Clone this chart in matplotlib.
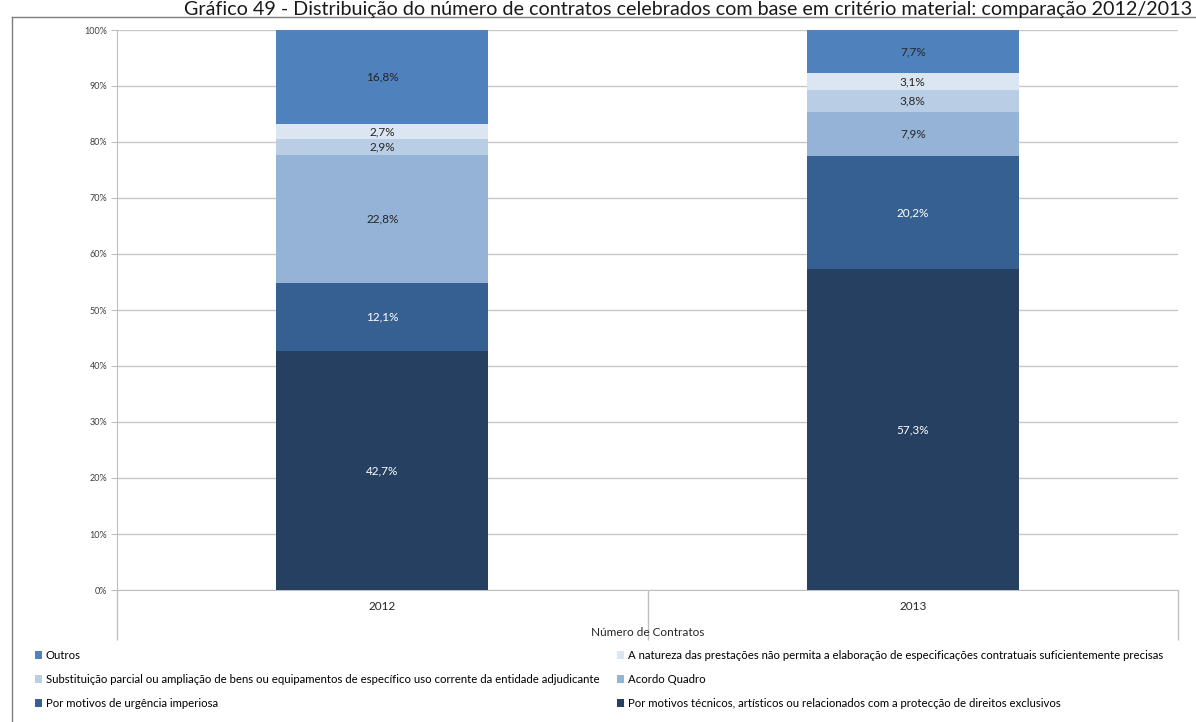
import matplotlib.pyplot as plt
import numpy as np
from matplotlib.lines import Line2D
from matplotlib.patches import Patch

plt.rcParams['font.family'] = ['Lato', 'DejaVu Sans']

years = ['2012', '2013']
series = [
    'Por motivos técnicos, artísticos ou relacionados com a protecção de direitos exclusivos',
    'Por motivos de urgência imperiosa',
    'Acordo Quadro',
    'Substituição parcial ou ampliação de bens ou equipamentos de específico uso corrente da entidade adjudicante',
    'A natureza das prestações não permita a elaboração de especificações contratuais suficientemente precisas',
    'Outros',
]
tecnicos = [42.7, 57.3]
urgencia = [12.1, 20.2]
acordo = [22.8, 7.9]
substituicao = [2.9, 3.8]
natureza = [2.7, 3.1]
outros = [16.8, 7.7]
values = [tecnicos, urgencia, acordo, substituicao, natureza, outros]
colors = ['#254061', '#376092', '#95B3D7', '#B9CDE5', '#DCE6F2', '#4F81BD']
text_colors = ['white', 'white', '#262626', '#262626', '#262626', '#262626']

fig = plt.figure(figsize=(11.96, 7.22), dpi=100)
W, H = 1196, 722
ax = fig.add_axes([117 / W, 1 - 590 / H, (1178 - 117) / W, (590 - 30) / H])

x = np.arange(len(years))
bottom = np.zeros(len(years))
for vals, col, tc in zip(values, colors, text_colors):
    ax.bar(x, vals, 0.4, bottom=bottom, color=col, zorder=3)
    for xi, v, b0 in zip(x, vals, bottom):
        ax.text(xi, b0 + v / 2, f'{v:.1f}%'.replace('.', ','), ha='center',
                va='center', fontsize=8.5, color=tc, zorder=4)
    bottom += np.array(vals)

ax.set_xlim(-0.5, 1.5)
ax.set_ylim(0, 100)
ax.set_yticks(np.arange(0, 101, 10))
ax.set_yticklabels([f'{t}%' for t in range(0, 101, 10)], fontsize=6.5, color='#404040')
ax.yaxis.grid(True, color='#C8C8C8', linewidth=1, zorder=0)
ax.tick_params(axis='y', length=4, color='#BFBFBF', pad=3)

ax.set_xticks(x)
ax.set_xticklabels(years, fontsize=8.5, color='#262626')
ax.set_xticks([-0.5, 0.5, 1.5], minor=True)
ax.tick_params(axis='x', which='major', length=0, pad=8)
ax.tick_params(axis='x', which='minor', length=36, color='#BFBFBF', width=1)
fig.text(648 / W, 1 - 632 / H, 'Número de Contratos', fontsize=8.5,
         color='#262626', ha='center', va='center')

for s in ['top', 'right']:
    ax.spines[s].set_visible(False)
for s in ['left', 'bottom']:
    ax.spines[s].set_color('#BFBFBF')

# legend in two columns, positioned separately
left_idx = [5, 3, 1]
right_idx = [4, 2, 0]
for idx, xpos in [(left_idx, 35 / W), (right_idx, 617 / W)]:
    handles = [Patch(facecolor=colors[i], edgecolor='none') for i in idx]
    fig.legend(handles, [series[i] for i in idx], loc='upper left',
               bbox_to_anchor=(xpos, 1 - 650 / H), frameon=False, fontsize=8.2,
               handlelength=0.65, handleheight=0.65, handletextpad=0.3,
               labelspacing=1.15, borderaxespad=0, borderpad=0)

# outer frame
fig.add_artist(Line2D([12 / W, 1], [1 - 17 / H, 1 - 17 / H], color='#7F7F7F', linewidth=1))
fig.add_artist(Line2D([12 / W, 12 / W], [0, 1 - 17 / H], color='#7F7F7F', linewidth=1))

fig.text(1192 / W, 1 - 14.5 / H,
         'Gráfico 49 - Distribuição do número de contratos celebrados com base em critério material: comparação 2012/2013',
         fontsize=14.2, color='#1a1a1a', ha='right', va='baseline')

fig.savefig('out.png', dpi=100)
